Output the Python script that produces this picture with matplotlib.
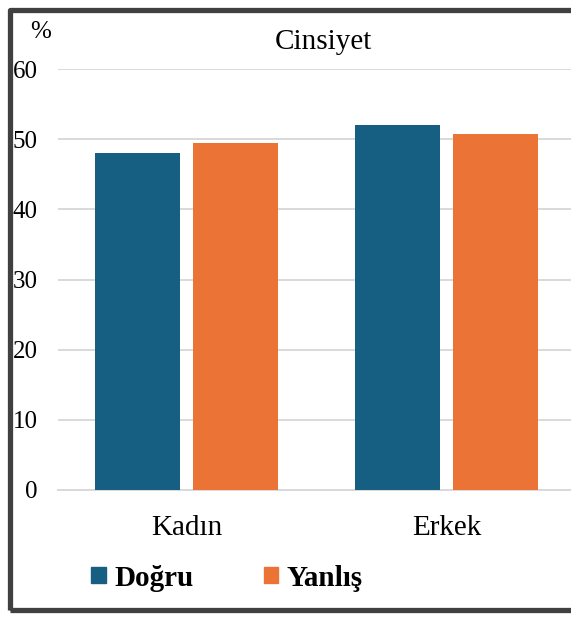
# Cinsiyet bar chart: Doğru / Yanlış percentages by gender
import matplotlib.pyplot as plt
import numpy as np
from matplotlib.patches import Rectangle

# data
categories = ['Kadın', 'Erkek']
series_names = ['Doğru', 'Yanlış']
dogru = [48.0, 52.0]
yanlis = [49.4, 50.7]
yticks = [0, 10, 20, 30, 40, 50, 60]

blue = '#165E82'
orange = '#EA7335'

plt.rcParams['font.family'] = ['Liberation Serif', 'DejaVu Serif']

W, H = 571, 617
fig = plt.figure(figsize=(W / 100, H / 100), dpi=100)

# plot area in pixel terms
left, right, top, bottom = 58, 571, 69, 490
ax = fig.add_axes([left / W, 1 - bottom / H, (right - left) / W, (bottom - top) / H])

x = np.arange(len(categories))
bw = 0.327
off = (bw + 0.05) / 2
ax.bar(x - off, dogru, bw, color=blue, label=series_names[0], zorder=3)
ax.bar(x + off, yanlis, bw, color=orange, label=series_names[1], zorder=3)

ax.set_xlim(-0.496, 1.477)
ax.set_ylim(0, 60)
ax.set_yticks(yticks)
ax.set_xticks(x)
ax.set_xticklabels(categories, fontsize=21)
ax.tick_params(axis='y', length=0, pad=14.5, labelsize=18)
ax.tick_params(axis='x', length=0, pad=18)
ax.grid(axis='y', color='#d9d9d9', linewidth=1.4, zorder=0)
for s in ['top', 'right', 'left']:
    ax.spines[s].set_visible(False)
ax.spines['bottom'].set_color('#d9d9d9')
ax.spines['bottom'].set_linewidth(1.4)
ax.spines['bottom'].set_zorder(1)

fig.text(323 / W, 1 - 42 / H, 'Cinsiyet', ha='center', va='center', fontsize=21)
fig.text(41 / W, 1 - 32 / H, '%', ha='center', va='center', fontsize=18)

handles = [Rectangle((0, 0), 1, 1, color=blue), Rectangle((0, 0), 1, 1, color=orange)]
fig.legend(handles, series_names, loc='center left', bbox_to_anchor=(91 / W, 1 - 578 / H),
           ncol=2, frameon=False, prop={'size': 21, 'weight': 'bold'},
           handlelength=0.5, handleheight=0.5, handletextpad=0.3, columnspacing=2.4,
           borderaxespad=0, borderpad=0)

# dark outer frame (right side runs off the image)
frame = Rectangle((9.5 / W, 1 - 610 / H), (W + 20) / W, 600 / H, transform=fig.transFigure,
                  fill=False, edgecolor='#404040', linewidth=3.8, joinstyle='round')
fig.patches.append(frame)

fig.savefig('out.png', dpi=100)
